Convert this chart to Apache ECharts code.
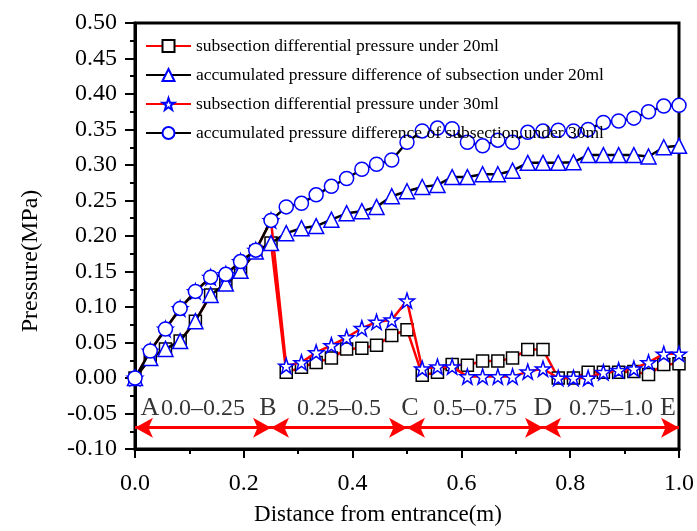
<!DOCTYPE html>
<html><head><meta charset="utf-8">
<script src="https://cdn.jsdelivr.net/npm/echarts@6/dist/echarts.min.js"></script>
<style>html,body{margin:0;padding:0;background:#fff}#c{width:697px;height:531px}</style>
</head><body><div id="c"></div>
<script>
// Distance from entrance (m)
const xValues = [0, 0.028, 0.056, 0.083, 0.111, 0.139, 0.167, 0.194, 0.222, 0.25,
  0.278, 0.306, 0.333, 0.361, 0.389, 0.417, 0.444, 0.472, 0.5,
  0.528, 0.556, 0.583, 0.611, 0.639, 0.667, 0.694, 0.722, 0.75,
  0.778, 0.806, 0.833, 0.861, 0.889, 0.917, 0.944, 0.972, 1.0];
// Pressure (MPa)
const sub20 = [0, 0.028, 0.041, 0.052, 0.080, 0.117, 0.133, 0.151, 0.178, 0.190,
  0.008, 0.015, 0.022, 0.028, 0.041, 0.042, 0.046, 0.060, 0.068,
  0.004, 0.008, 0.019, 0.018, 0.024, 0.024, 0.028, 0.040, 0.040,
  0, 0, 0.008, 0.008, 0.008, 0.009, 0.005, 0.019, 0.020];
const acc20 = [0, 0.028, 0.041, 0.052, 0.080, 0.117, 0.133, 0.151, 0.178, 0.190,
  0.204, 0.211, 0.214, 0.223, 0.232, 0.235, 0.241, 0.256, 0.263,
  0.269, 0.272, 0.283, 0.283, 0.287, 0.287, 0.292, 0.303, 0.303,
  0.303, 0.304, 0.314, 0.314, 0.314, 0.314, 0.312, 0.325, 0.327];
const sub30 = [0, 0.038, 0.069, 0.098, 0.122, 0.142, 0.146, 0.164, 0.180, 0.222,
  0.017, 0.022, 0.036, 0.046, 0.057, 0.070, 0.079, 0.082, 0.109,
  0.013, 0.016, 0.016, 0.002, 0.002, 0.002, 0.002, 0.009, 0.013,
  0, 0, 0, 0.008, 0.011, 0.013, 0.022, 0.034, 0.034];
const acc30 = [0, 0.038, 0.069, 0.098, 0.122, 0.142, 0.146, 0.164, 0.180, 0.222,
  0.241, 0.246, 0.258, 0.270, 0.281, 0.294, 0.301, 0.307, 0.332,
  0.348, 0.352, 0.351, 0.332, 0.327, 0.335, 0.332, 0.346, 0.348,
  0.349, 0.348, 0.350, 0.360, 0.362, 0.366, 0.375, 0.383, 0.384];

const seriesNames = [
  'subsection differential pressure under 20ml',
  'accumulated pressure difference of subsection under 20ml',
  'subsection differential pressure under 30ml',
  'accumulated pressure difference of subsection under 30ml'
];
// Section annotations
const boundaryX = [0, 0.25, 0.5, 0.75, 1.0];
const boundaryLetters = ['A', 'B', 'C', 'D', 'E'];
const sectionLabels = ['0.0\u20130.25', '0.25\u20130.5', '0.5\u20130.75', '0.75\u20131.0'];
const labelY = -0.043;
const arrowY = -0.07;

const FONT = "'Liberation Serif','Times New Roman',serif";
const letterOffsets = [15, -3, 3, 0, -11];

function pairs(ys) { return xValues.map((x, i) => [x, ys[i]]); }

function lineSeries(name, ys, color, symbol, size, markerColor, z) {
  return {
    type: 'line', name: name, data: pairs(ys), z: z,
    symbol: symbol, symbolSize: size, showAllSymbol: true,
    lineStyle: { color: color, width: 2.5 },
    itemStyle: { color: '#fff', borderColor: markerColor, borderWidth: 1.5 },
    emphasis: { disabled: true }
  };
}

const chart = echarts.init(document.getElementById('c'));
const option = {
  animation: false,
  backgroundColor: '#fff',
  grid: { left: 135, right: 16, top: 23, bottom: 75, show: true, borderColor: '#000', borderWidth: 3 },
  legend: {
    orient: 'vertical', left: 140, top: 32, itemWidth: 45, itemHeight: 15, itemGap: 11, z: 20,
    textStyle: { fontFamily: FONT, fontSize: 17.5, color: '#000' },
    data: seriesNames
  },
  xAxis: {
    type: 'value', min: 0, max: 1, interval: 0.2,
    axisLine: { show: true, onZero: false, lineStyle: { color: '#000', width: 3 } },
    axisTick: { show: true, inside: false, length: 9, lineStyle: { color: '#000', width: 2 } },
    minorTick: { show: true, splitNumber: 2, length: 5, lineStyle: { color: '#000', width: 2 } },
    splitLine: { show: false }, minorSplitLine: { show: false },
    axisLabel: { color: '#000', fontFamily: FONT, fontSize: 24, margin: 23, formatter: v => v.toFixed(1) },
    name: 'Distance from entrance(m)', nameLocation: 'middle', nameGap: 54,
    nameTextStyle: { color: '#000', fontFamily: FONT, fontSize: 23, padding: [0, 58, 0, 0] }
  },
  yAxis: {
    type: 'value', min: -0.1, max: 0.5, interval: 0.05,
    axisLine: { show: true, onZero: false, lineStyle: { color: '#000', width: 3 } },
    axisTick: { show: true, inside: false, length: 10, lineStyle: { color: '#000', width: 2 } },
    minorTick: { show: true, splitNumber: 2, length: 5, lineStyle: { color: '#000', width: 2 } },
    splitLine: { show: false }, minorSplitLine: { show: false },
    axisLabel: { color: '#000', fontFamily: FONT, fontSize: 24, margin: 18, formatter: v => v.toFixed(2) },
    name: 'Pressure(MPa)', nameLocation: 'middle', nameGap: 92,
    nameTextStyle: { color: '#000', fontFamily: FONT, fontSize: 24, padding: [0, 50, 0, 0] }
  },
  series: [
    lineSeries(seriesNames[0], sub20, '#ff0000', 'rect', 12, '#000', 2),
    lineSeries(seriesNames[1], acc20, '#000', 'triangle', 15, '#0000ff', 4),
    lineSeries(seriesNames[2], sub30, '#ff0000', 'path://M50,0 L61.8,35.1 L98.1,35.1 L68.8,56.7 L79.4,91 L50,70 L20.6,91 L31.2,56.7 L1.9,35.1 L38.2,35.1 Z', 15, '#0000ff', 3),
    lineSeries(seriesNames[3], acc30, '#000', 'circle', 14, '#0000ff', 5),
    {
      type: 'scatter', name: 'letters', silent: true, symbolSize: 0, z: 6,
      data: boundaryX.map((x, i) => ({ value: [x, labelY], label: { formatter: boundaryLetters[i], offset: [letterOffsets[i], 0] } })),
      label: { show: true, position: 'inside', color: '#000', fontFamily: FONT, fontSize: 26 },
      markLine: {
        silent: true, symbol: ['arrow', 'arrow'], symbolSize: [15, 18],
        lineStyle: { color: '#ff0000', width: 3, type: 'solid' },
        label: { show: false },
        data: boundaryX.slice(0, -1).map((x, i) => [{ coord: [x, arrowY] }, { coord: [boundaryX[i + 1], arrowY] }])
      }
    },
    {
      type: 'scatter', name: 'sections', silent: true, symbolSize: 0, z: 6,
      data: sectionLabels.map((t, i) => ({ value: [(boundaryX[i] + boundaryX[i + 1]) / 2, labelY], label: { formatter: t } })),
      label: { show: true, position: 'inside', color: '#000', fontFamily: FONT, fontSize: 24 }
    }
  ]
};
chart.setOption(option);
</script></body></html>
